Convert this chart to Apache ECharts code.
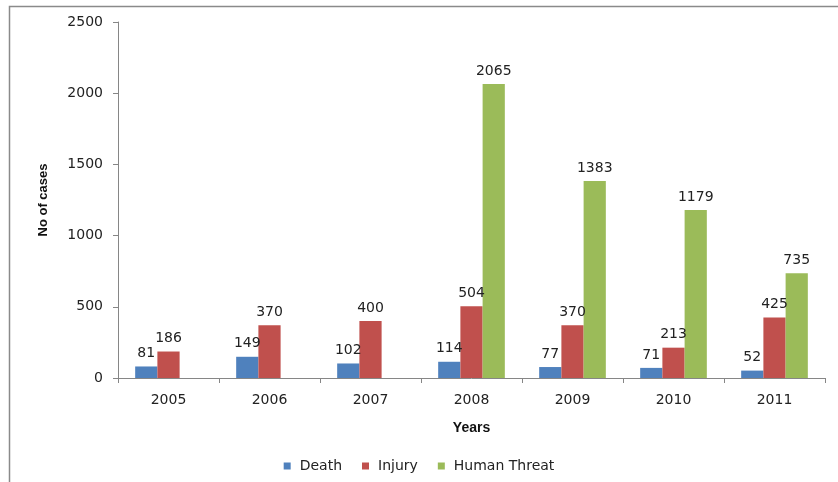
<!DOCTYPE html>
<html>
<head>
<meta charset="utf-8">
<script src="https://cdn.jsdelivr.net/npm/echarts@6/dist/echarts.min.js"></script>
<style>
html,body{margin:0;padding:0;background:#fff;}
#chart{width:838px;height:482px;}
</style>
</head>
<body>
<div id="chart"></div>
<script>
var categories = ['2005','2006','2007','2008','2009','2010','2011'];
var deathValues = [81,149,102,114,77,71,52];
var injuryValues = [186,370,400,504,370,213,425];
var humanThreatValues = [null,null,null,2065,1383,1179,735];
var seriesNames = ['Death','Injury','Human Threat'];
var yTicks = {min:0, max:2500, interval:500};

var colors = ['#4F81BD','#C0504D','#9BBB59'];
var labelStyle = {show:true, position:'top', distance:6, color:'#222', fontFamily:'DejaVu Sans', fontSize:14};

var chart = echarts.init(document.getElementById('chart'), null, {renderer:'canvas'});
function mk(name, data, color){
  return {
    name:name, type:'bar', data:data, barGap:'0%', barCategoryGap:'34%',
    itemStyle:{color:color},
    label:labelStyle,
    emphasis:{disabled:true}
  };
}
chart.setOption({
  animation:false,
  backgroundColor:'#fff',
  color:colors,
  grid:{left:118, right:13, top:22, bottom:104, containLabel:false},
  legend:{
    bottom:4, left:'center', itemWidth:7, itemHeight:7, itemGap:20,
    icon:'rect',
    textStyle:{fontFamily:'DejaVu Sans', fontSize:14, color:'#222', padding:[0,0,0,4]},
    data:seriesNames
  },
  xAxis:{
    type:'category', data:categories,
    name:'Years', nameLocation:'middle', nameGap:43,
    nameTextStyle:{fontFamily:'Liberation Sans', fontWeight:'bold', fontSize:14, color:'#111'},
    axisLine:{lineStyle:{color:'#868686', width:1}},
    axisTick:{show:true, length:5, alignWithLabel:false, lineStyle:{color:'#868686'}},
    axisLabel:{margin:15, fontFamily:'DejaVu Sans', fontSize:14, color:'#222'}
  },
  yAxis:{
    type:'value', min:yTicks.min, max:yTicks.max, interval:yTicks.interval,
    name:'No of cases', nameLocation:'middle', nameGap:68, nameRotate:90,
    nameTextStyle:{fontFamily:'Liberation Sans', fontWeight:'bold', fontSize:13, color:'#111'},
    axisLine:{show:true, lineStyle:{color:'#868686', width:1}},
    axisTick:{show:true, length:5, lineStyle:{color:'#868686'}},
    splitLine:{show:false},
    axisLabel:{margin:15, fontFamily:'DejaVu Sans', fontSize:14, color:'#222',
      formatter:function(v){return String(v);}}
  },
  graphic:[{
    type:'rect', silent:true, z:-1,
    shape:{x:9.5, y:6.5, width:900, height:600},
    style:{fill:null, stroke:'#8a8a8a', lineWidth:1.5}
  }],
  series:[
    mk(seriesNames[0], deathValues, colors[0]),
    mk(seriesNames[1], injuryValues, colors[1]),
    mk(seriesNames[2], humanThreatValues, colors[2])
  ]
});
</script>
</body>
</html>
